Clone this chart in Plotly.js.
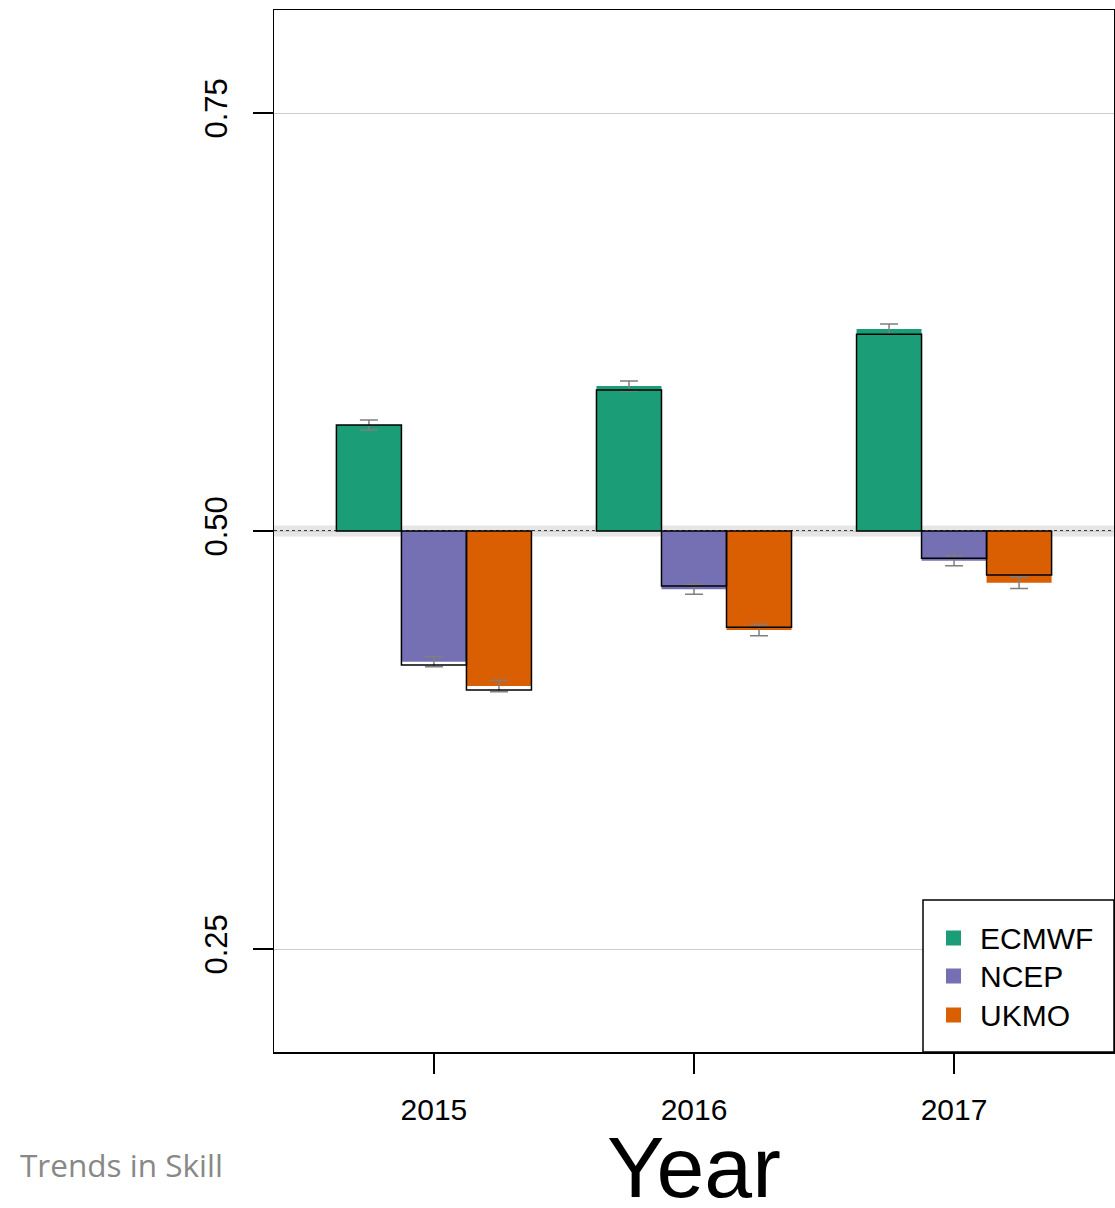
<!DOCTYPE html>
<html>
<head>
<meta charset="utf-8">
<script src="https://cdn.plot.ly/plotly-3.0.1.min.js"></script>
<style>html,body{margin:0;padding:0;background:#fff}#chart{width:1115px;height:1208px}</style>
</head>
<body>
<div id="chart"></div>
<script>
// ---- data ----
const years = ["2015", "2016", "2017"];
const models = ["ECMWF", "NCEP", "UKMO"];
const colors = ["#1b9e77", "#7570b3", "#d95f02"];
// filled (coloured) bar values
const ecmwfFill = [0.5634, 0.5867, 0.6208];
const ncepFill  = [0.4218, 0.4651, 0.4822];
const ukmoFill  = [0.4073, 0.4408, 0.4691];
// outlined bar values
const ecmwfLine = [0.5634, 0.5843, 0.6176];
const ncepLine  = [0.4199, 0.4671, 0.4837];
const ukmoLine  = [0.4049, 0.4424, 0.4737];
// error half-widths
const ecmwfErr = [0.003, 0.003, 0.003];
const ncepErr  = [0.003, 0.003, 0.003];
const ukmoErr  = [0.0035, 0.0035, 0.0035];
const baseline = 0.5;
const bandHalf = 0.0033;
const yTicks = [0.25, 0.50, 0.75];
const yTickText = ["0.25", "0.50", "0.75"];

const fills = [ecmwfFill, ncepFill, ukmoFill];
const lines = [ecmwfLine, ncepLine, ukmoLine];
const errs = [ecmwfErr, ncepErr, ukmoErr];
const xs = years.map((_, i) => i);
const barW = 0.25;

const traces = [];
models.forEach((m, k) => {
  traces.push({
    type: 'bar', name: m, x: xs,
    y: fills[k].map(v => v - baseline), base: baseline,
    width: barW, offset: -0.375 + k * barW,
    marker: {color: colors[k], line: {width: 0}},
    error_y: {type: 'data', array: errs[k], color: '#7f7f7f', thickness: 1.5, width: 9},
    showlegend: false, hoverinfo: 'skip'
  });
});
models.forEach((m, k) => {
  traces.push({
    type: 'bar', name: m + ' outline', x: xs,
    y: lines[k].map(v => v - baseline), base: baseline,
    width: barW, offset: -0.375 + k * barW,
    marker: {color: 'rgba(0,0,0,0)', line: {width: 1.5, color: '#000'}},
    showlegend: false, hoverinfo: 'skip'
  });
});

// legend geometry (paper coords)
const W = 840, H = 1042;
const shapes = [
  {type: 'rect', xref: 'paper', yref: 'y', x0: 0, x1: 1, y0: baseline - bandHalf, y1: baseline + bandHalf,
   fillcolor: '#e6e6e6', line: {width: 0}, layer: 'below'},
  {type: 'line', xref: 'paper', yref: 'y', x0: 0, x1: 1, y0: baseline, y1: baseline,
   line: {color: '#000', width: 1.5, dash: 'dot'}, layer: 'below'},
  {type: 'rect', xref: 'paper', yref: 'paper', x0: (923 - 274) / W, x1: 1, y0: 0, y1: (1052 - 900) / H,
   fillcolor: '#fff', line: {color: '#000', width: 1.5}}
];
const annotations = [];
const legY = [938, 976, 1015];
models.forEach((m, k) => {
  const yc = (1052 - legY[k]) / H;
  shapes.push({type: 'rect', xref: 'paper', yref: 'paper',
    x0: (946 - 274) / W, x1: (961 - 274) / W, y0: yc - 7.5 / H, y1: yc + 7.5 / H,
    fillcolor: colors[k], line: {width: 0}});
  annotations.push({xref: 'paper', yref: 'paper', x: (978 - 274) / W, y: yc, xanchor: 'left', yanchor: 'middle',
    text: m, showarrow: false, font: {family: 'Liberation Sans, Arial, sans-serif', size: 30, color: '#000'}});
});
annotations.push({xref: 'paper', yref: 'paper', x: 0.5, y: -(1167 - 1052) / H, xanchor: 'center', yanchor: 'middle',
  text: 'Year', showarrow: false, font: {family: 'Liberation Sans, Arial, sans-serif', size: 86, color: '#000'}});
annotations.push({xref: 'paper', yref: 'paper', x: -(274 - 18) / W, y: -(1164 - 1052) / H, xanchor: 'left', yanchor: 'middle',
  text: 'Trends in Skill', showarrow: false, font: {family: 'Open Sans, sans-serif', size: 31.5, color: '#888888'}});

const layout = {
  width: 1115, height: 1208,
  margin: {l: 274, r: 1, t: 10, b: 156},
  paper_bgcolor: '#fff', plot_bgcolor: '#fff',
  barmode: 'overlay',
  showlegend: false,
  font: {family: 'Liberation Sans, Arial, sans-serif', color: '#000'},
  xaxis: {
    range: [-0.615, 2.615], tickvals: xs, ticktext: years,
    ticks: 'outside', ticklen: 20, tickwidth: 1.5, tickcolor: '#000', ticklabelstandoff: 10,
    tickfont: {size: 30}, showgrid: false, zeroline: false,
    showline: true, mirror: true, linecolor: '#000', linewidth: 1.5
  },
  yaxis: {
    range: [0.1884, 0.8116], tickvals: yTicks, ticktext: yTickText, tickangle: -90,
    ticks: 'outside', ticklen: 20, tickwidth: 1.5, tickcolor: '#000', ticklabelstandoff: 13,
    tickfont: {size: 31}, showgrid: true, gridcolor: '#cccccc', gridwidth: 1, zeroline: false,
    showline: true, mirror: true, linecolor: '#000', linewidth: 1.5
  },
  shapes: shapes,
  annotations: annotations
};
Plotly.newPlot('chart', traces, layout, {displayModeBar: false, staticPlot: true});
</script>
</body>
</html>
